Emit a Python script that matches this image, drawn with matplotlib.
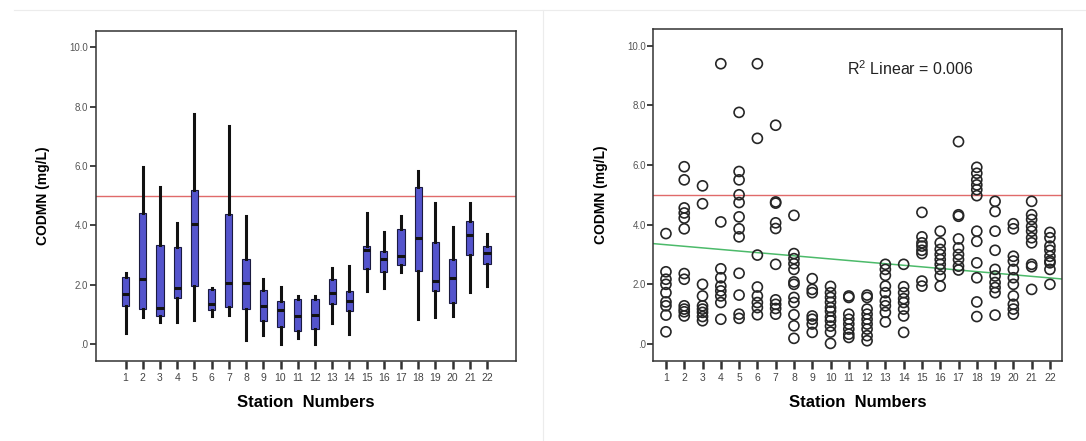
import matplotlib
matplotlib.use('Agg')
import matplotlib.pyplot as plt
from matplotlib.lines import Line2D
import numpy as np

# box plot summary per station (mg/L)
stations = list(range(1, 23))
whislo = [0.39, 0.92, 0.75, 0.75, 0.81, 0.96, 0.98, 0.13, 0.31, 0.00, 0.22,
          0.00, 0.70, 0.34, 1.80, 1.89, 2.44, 0.84, 0.90, 0.96, 1.74, 1.97]
q1 = [1.29, 1.18, 0.96, 1.54, 1.97, 1.16, 1.26, 1.18, 0.79, 0.58, 0.45,
      0.51, 1.35, 1.10, 2.53, 2.44, 2.66, 2.45, 1.78, 1.37, 3.01, 2.70]
med = [1.69, 2.19, 1.20, 1.89, 4.04, 1.35, 2.06, 2.06, 1.27, 1.15, 0.93,
       0.99, 1.72, 1.44, 3.18, 2.87, 2.96, 3.57, 2.11, 2.21, 3.69, 3.07]
q3 = [2.25, 4.40, 3.34, 3.28, 5.19, 1.85, 4.38, 2.87, 1.82, 1.46, 1.52,
      1.52, 2.19, 1.78, 3.31, 3.12, 3.88, 5.28, 3.45, 2.87, 4.16, 3.29]
whishi = [2.39, 5.96, 5.28, 4.08, 7.75, 1.88, 7.34, 4.30, 2.19, 1.93, 1.61,
          1.61, 2.56, 2.64, 4.40, 3.76, 4.30, 5.84, 4.75, 3.96, 4.75, 3.71]

# individual measurements per station (mg/L)
codmn_points = [
    [3.70, 2.42, 2.17, 2.00, 1.72, 1.41, 1.28, 0.97, 0.41],
    [5.94, 5.50, 4.56, 4.39, 4.22, 3.86, 2.36, 2.17, 1.28, 1.17, 1.08, 0.94],
    [5.30, 4.70, 2.00, 1.61, 1.28, 1.17, 1.06, 0.92, 0.78],
    [9.39, 4.09, 2.52, 2.22, 1.94, 1.78, 1.61, 1.39, 0.83],
    [7.76, 5.78, 5.50, 5.00, 4.74, 4.26, 3.86, 3.59, 2.37, 1.64, 1.00, 0.86],
    [9.39, 6.89, 2.98, 1.91, 1.61, 1.39, 1.22, 0.98],
    [7.33, 4.76, 4.72, 4.06, 3.87, 2.67, 1.48, 1.33, 1.19, 1.00],
    [4.31, 3.03, 2.86, 2.69, 2.50, 2.08, 2.00, 1.56, 1.39, 0.98, 0.61, 0.19],
    [2.19, 1.83, 1.72, 0.94, 0.83, 0.67, 0.39],
    [1.93, 1.72, 1.56, 1.40, 1.22, 1.10, 0.90, 0.78, 0.60, 0.40, 0.02],
    [1.61, 1.56, 1.00, 0.83, 0.67, 0.50, 0.33, 0.22],
    [1.64, 1.56, 1.17, 1.00, 0.83, 0.67, 0.50, 0.28, 0.11],
    [2.67, 2.50, 2.30, 1.94, 1.72, 1.44, 1.28, 1.06, 0.74],
    [2.67, 1.92, 1.72, 1.52, 1.39, 1.17, 0.94, 0.39],
    [4.41, 3.59, 3.39, 3.28, 3.14, 3.03, 2.11, 1.94],
    [3.78, 3.39, 3.17, 3.00, 2.83, 2.67, 2.50, 2.28, 1.94],
    [6.78, 4.33, 4.28, 3.52, 3.22, 3.00, 2.83, 2.61, 2.48],
    [5.92, 5.72, 5.50, 5.33, 5.17, 4.97, 3.78, 3.44, 2.72, 2.22, 1.41, 0.92],
    [4.78, 4.44, 3.78, 3.14, 2.50, 2.28, 2.06, 1.89, 1.72, 0.97],
    [4.03, 3.86, 2.94, 2.78, 2.50, 2.22, 2.00, 1.61, 1.33, 1.17, 1.00],
    [4.78, 4.33, 4.17, 3.94, 3.78, 3.56, 3.39, 2.67, 2.59, 1.83],
    [3.74, 3.56, 3.28, 3.14, 2.94, 2.78, 2.72, 2.50, 2.00],
]

limit_value = 5.0
fit_intercept = 3.38
fit_slope = -0.053
r2_label = r'R$^2$ Linear = 0.006'

yticks = [0, 2, 4, 6, 8, 10]
ytick_labels = ['.0', '2.0', '4.0', '6.0', '8.0', '10.0']

plt.rcParams['font.family'] = ['Liberation Sans', 'DejaVu Sans']
plt.rcParams['mathtext.fontset'] = 'custom'
plt.rcParams['mathtext.rm'] = 'Liberation Sans'

fig = plt.figure(figsize=(10.86, 4.41), dpi=100)
ax1 = fig.add_axes([0.0884, 0.182, 0.3867, 0.748])
ax2 = fig.add_axes([0.6016, 0.182, 0.3763, 0.752])

# faint panel borders
fig.add_artist(Line2D([0.013, 1.0], [0.978, 0.978], color='#ececec', lw=0.8))
fig.add_artist(Line2D([0.5, 0.5], [0.0, 0.978], color='#ececec', lw=0.8))


def style_axes(ax):
    for s in ax.spines.values():
        s.set_color('#333333')
        s.set_linewidth(1.1)
    ax.set_ylim(-0.56, 10.55)
    ax.set_yticks(yticks)
    ax.set_yticklabels(ytick_labels, fontsize=7, color='#555555')
    ax.set_xticks(stations)
    ax.set_xticklabels([str(s) for s in stations], fontsize=7.5, color='#444444')
    ax.tick_params(axis='y', direction='out', length=4.5, width=1.3, color='#333333', pad=1)
    ax.tick_params(axis='x', direction='out', length=5.5, width=1.8, color='#333333', pad=3)
    ax.set_ylabel('CODMN (mg/L)', fontsize=10, fontweight='bold', labelpad=14)
    ax.set_xlabel('Station  Numbers', fontsize=12, fontweight='bold', labelpad=9)
    ax.axhline(limit_value, color='#e06a6a', lw=1.0, zorder=1)


# left: box plots
stats = []
for i in range(len(stations)):
    stats.append({'whislo': whislo[i], 'q1': q1[i], 'med': med[i],
                  'q3': q3[i], 'whishi': whishi[i], 'fliers': []})
ax1.bxp(stats, positions=stations, widths=0.42, showfliers=False, showcaps=False,
        patch_artist=True,
        boxprops=dict(facecolor='#5454cc', edgecolor='#1a1a40', linewidth=0.8),
        whiskerprops=dict(color='#111111', linewidth=2.2),
        medianprops=dict(color='#111111', linewidth=2.2))
ax1.set_xlim(-0.72, 23.68)
style_axes(ax1)

# right: scatter with linear fit
for st, vals in zip(stations, codmn_points):
    ax2.scatter([st] * len(vals), vals, s=52, facecolors='none',
                edgecolors='#262626', linewidths=1.2, zorder=3)
ax2.set_xlim(0.31, 22.66)
xs = np.array(ax2.get_xlim())
ax2.plot(xs, fit_intercept + fit_slope * xs, color='#4cba6a', lw=1.1, zorder=2)
ax2.text(10.9, 9.23, r2_label, fontsize=11.5, ha='left', va='center', color='#222222')
style_axes(ax2)
ax2.set_xlim(0.31, 22.66)

fig.savefig('out.png', dpi=100)
